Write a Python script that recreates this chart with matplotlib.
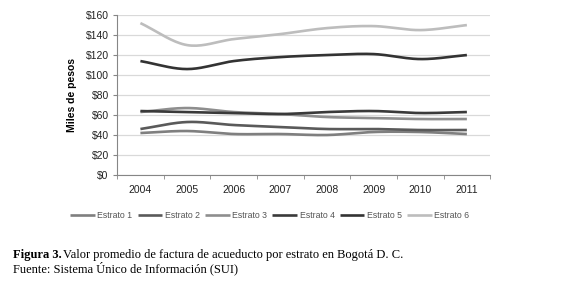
import matplotlib.pyplot as plt
import numpy as np

years = ['2004', '2005', '2006', '2007', '2008', '2009', '2010', '2011']
estrato_1 = [42, 44, 41, 41, 40, 43, 43, 41]
estrato_2 = [46, 53, 50, 48, 46, 46, 45, 45]
estrato_3 = [63, 67, 63, 61, 58, 57, 56, 56]
estrato_4 = [64, 63, 62, 61, 63, 64, 62, 63]
estrato_5 = [114, 106, 114, 118, 120, 121, 116, 120]
estrato_6 = [152, 130, 136, 141, 147, 149, 145, 150]
labels = ['Estrato 1', 'Estrato 2', 'Estrato 3', 'Estrato 4', 'Estrato 5', 'Estrato 6']
colors = ['#7f7f7f', '#5a5a5a', '#8e8e8e', '#3a3a3a', '#333333', '#bdbdbd']
series = [estrato_1, estrato_2, estrato_3, estrato_4, estrato_5, estrato_6]


def smooth(x, y, n=20):
    # catmull-rom curve through the points, like excel "smoothed line"
    x = np.asarray(x, float)
    y = np.asarray(y, float)
    px = np.concatenate([[2 * x[0] - x[1]], x, [2 * x[-1] - x[-2]]])
    py = np.concatenate([[2 * y[0] - y[1]], y, [2 * y[-1] - y[-2]]])
    xs, ys = [], []
    t = np.linspace(0, 1, n, endpoint=False)
    for i in range(1, len(px) - 2):
        for p, out in ((px, xs), (py, ys)):
            p0, p1, p2, p3 = p[i - 1], p[i], p[i + 1], p[i + 2]
            out.extend(0.5 * (2 * p1 + (-p0 + p2) * t + (2 * p0 - 5 * p1 + 4 * p2 - p3) * t ** 2
                              + (-p0 + 3 * p1 - 3 * p2 + p3) * t ** 3))
    xs.append(x[-1])
    ys.append(y[-1])
    return xs, ys


plt.rcParams['font.family'] = 'Liberation Sans'
fig = plt.figure(figsize=(5.74, 2.85), dpi=100)
ax = fig.add_axes([0.204, 0.386, 0.65, 0.561])

x = np.arange(len(years))
for s, lab, c in zip(series, labels, colors):
    sx, sy = smooth(x, s)
    ax.plot(sx, sy, color=c, lw=1.9, label=lab, solid_capstyle='butt')

ax.set_xlim(-0.5, len(years) - 0.5)
ax.set_ylim(0, 160)
ax.set_yticks(np.arange(0, 161, 20))
ax.set_yticklabels(['$%d' % v for v in range(0, 161, 20)], fontsize=7.5, color='#222222')
ax.set_xticks(x)
ax.set_xticklabels(years, fontsize=7.5, color='#222222')
ax.set_xticks(np.arange(-0.5, len(years), 1), minor=True)
ax.tick_params(axis='x', which='major', length=0, pad=7)
ax.tick_params(axis='x', which='minor', length=3, color='#868686', direction='out')
ax.tick_params(axis='y', length=3, color='#868686', pad=3)
ax.grid(axis='y', color='#d9d9d9', lw=0.9)
ax.set_axisbelow(True)
for side in ['top', 'right']:
    ax.spines[side].set_visible(False)
for side in ['left', 'bottom']:
    ax.spines[side].set_color('#868686')
ax.set_ylabel('Miles de pesos', fontsize=7.5, fontweight='bold', labelpad=6)

fig.legend(loc='center', bbox_to_anchor=(0.47, 0.245), ncol=6, frameon=False,
           fontsize=6.3, handlelength=2.8, handletextpad=0.3, columnspacing=0.6,
           labelcolor='#555555')

fig.text(0.022, 0.095, 'Figura 3.', family='Liberation Serif', fontsize=9, fontweight='bold')
fig.text(0.109, 0.095, 'Valor promedio de factura de acueducto por estrato en Bogotá D. C.',
         family='Liberation Serif', fontsize=9)
fig.text(0.022, 0.045, 'Fuente: Sistema Único de Información (SUI)',
         family='Liberation Serif', fontsize=9)

fig.savefig('out.png', dpi=100)
